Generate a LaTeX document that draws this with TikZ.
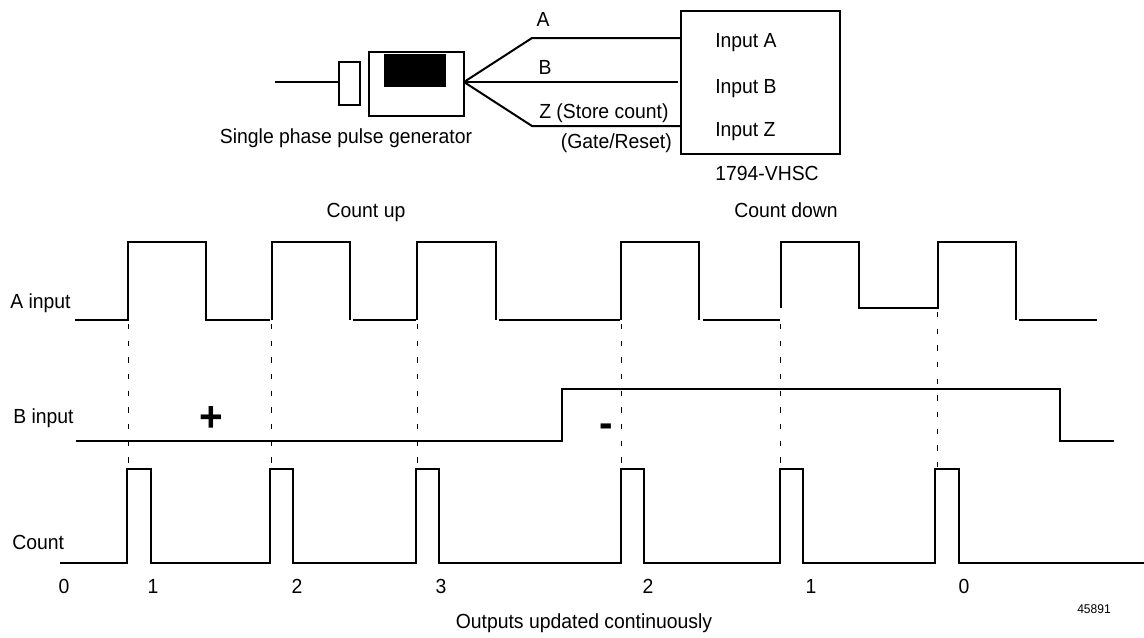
\documentclass[tikz,border=0pt]{standalone}
\usepackage{fontspec}
\setmainfont{Liberation Sans}[FakeStretch=0.95]
\begin{document}
\begin{tikzpicture}[x=0.75pt,y=-0.75pt,
  wave/.style={line width=0.9pt, line join=miter},
  wire/.style={line width=1.5pt},
  box/.style={line width=0.9pt},
  guide/.style={line width=0.7pt, dash pattern=on 4pt off 8.5pt},
  lbl/.style={inner sep=0pt, font=\fontsize{15.3}{18}\selectfont},
  tiny/.style={inner sep=0pt, font=\fontsize{9.5}{11}\selectfont},
  sign/.style={inner sep=0pt, font=\fontsize{32}{34}\selectfont\bfseries}]
\useasboundingbox (0,0) rectangle (1144,637);

% ---------- pulse generator and module ----------
\coordinate (shaftL) at (275,82);
\coordinate (shaftR) at (339,82);
\draw[box] (shaftL) -- (shaftR);
\draw[box] (339,62) rectangle (360,105);
\draw[box] (369,52) rectangle (464,116);
\fill (384,54) rectangle (446,87);
\coordinate (fan) at (464,82);
\coordinate (aBend) at (532,38);
\coordinate (zBend) at (532,126);
\coordinate (inA) at (681,38);
\coordinate (inB) at (678,82);
\coordinate (inZ) at (681,126);
\draw[wire] (fan) -- (aBend) -- (inA);
\draw[wire] (fan) -- (inB);
\draw[wire] (fan) -- (zBend) -- (inZ);
\draw[box] (681,11) rectangle (840,154);

\node[lbl, anchor=base] (wA) at (543,26) {A};
\node[lbl, anchor=base] (wB) at (545,74) {B};
\node[lbl, anchor=base west] (wZ) at (539,118) {Z (Store count)};
\node[lbl, anchor=base east] (wG) at (672,148) {(Gate/Reset)};
\node[lbl, anchor=base west] (iA) at (715,47) {Input A};
\node[lbl, anchor=base west] (iB) at (715,93) {Input B};
\node[lbl, anchor=base west] (iZ) at (715,136) {Input Z};
\node[lbl, anchor=base west] (mod) at (715,180) {1794-VHSC};
\node[lbl, anchor=base] (gen) at (346,143) {Single phase pulse generator};
\node[lbl, anchor=base] (cup) at (366,217) {Count up};
\node[lbl, anchor=base] (cdn) at (786,217) {Count down};

% ---------- row labels ----------
\node[lbl, anchor=base west] (la) at (10,308) {A input};
\node[lbl, anchor=base west] (lb) at (13,423) {B input};
\node[lbl, anchor=base west] (lc) at (12,549) {Count};

% ---------- A input ----------
\draw[wave] (75,320) -- (128,320) -- (128,242) -- (206,242) -- (206,320) -- (270,320);
\draw[wave] (272,320) -- (272,242) -- (350,242) -- (350,320);
\draw[wave] (353,320) -- (416,320);
\draw[wave] (417,320) -- (417,242) -- (496,242) -- (496,320);
\draw[wave] (499,320) -- (620,320);
\draw[wave] (621,320) -- (621,242) -- (699,242) -- (699,320);
\draw[wave] (703,320) -- (780,320);
\draw[wave] (781,308) -- (781,242) -- (859,242) -- (859,308) -- (938,308) -- (938,242) -- (1016,242) -- (1016,320);
\draw[wave] (1019,320) -- (1097,320);

% ---------- B input ----------
\draw[wave] (76,441) -- (562,441) -- (562,389) -- (1060,389) -- (1060,441) -- (1114,441);

% ---------- Count ----------
\draw[wave] (60,563) -- (127,563) -- (127,469) -- (151,469) -- (151,563)
  -- (270,563) -- (270,469) -- (293,469) -- (293,563)
  -- (416,563) -- (416,469) -- (439,469) -- (439,563)
  -- (621,563) -- (621,469) -- (644,469) -- (644,563)
  -- (780,563) -- (780,469) -- (803,469) -- (803,563)
  -- (935,563) -- (935,469) -- (959,469) -- (959,563) -- (1144,563);

% ---------- dashed guides ----------
\foreach \gx in {128,271,417,621,780} {
  \draw[guide] (\gx,324) -- (\gx,467);
}
\draw[guide] (937,312) -- (937,467);

% ---------- signs ----------
\node[sign, anchor=base] (plus) at (211,431) {+};
\node[sign, anchor=base] (minus) at (606,437.5) {-};

% ---------- count values ----------
\node[lbl, anchor=base] (n0) at (64,593) {0};
\node[lbl, anchor=base] (n1) at (153,593) {1};
\node[lbl, anchor=base] (n2) at (297,593) {2};
\node[lbl, anchor=base] (n3) at (441,593) {3};
\node[lbl, anchor=base] (n4) at (648,593) {2};
\node[lbl, anchor=base] (n5) at (811,593) {1};
\node[lbl, anchor=base] (n6) at (964,593) {0};

\node[lbl, anchor=base] (outs) at (584,628) {Outputs updated continuously};
\node[tiny, anchor=base] (fig) at (1094,613) {45891};
\end{tikzpicture}
\end{document}
